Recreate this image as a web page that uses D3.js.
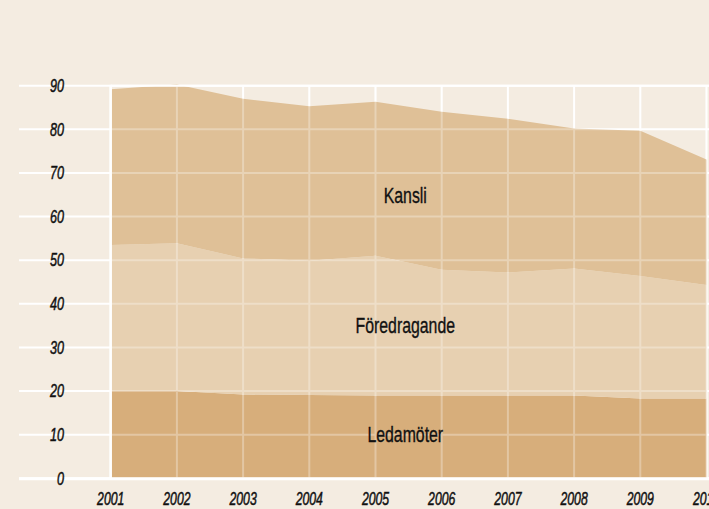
<!DOCTYPE html>
<html>
<head>
<meta charset="utf-8">
<script src="https://cdn.jsdelivr.net/npm/d3@7"></script>
<style>
  html, body { margin: 0; padding: 0; background: #f4ece1; }
  svg { display: block; }
  text { font-family: "Liberation Sans", Arial, sans-serif; fill: #111; }
</style>
</head>
<body>
<svg id="chart" width="709" height="509"></svg>
<script>
// ---- Data ----
const years = [2001, 2002, 2003, 2004, 2005, 2006, 2007, 2008, 2009, 2010];
const ledamoter    = [20.0, 20.0, 19.2, 19.1, 19.0, 19.0, 19.0, 19.0, 18.3, 18.3];
const foredragande = [33.5, 33.9, 31.2, 30.8, 32.0, 28.8, 28.2, 29.1, 28.1, 26.0];
const kansli       = [35.7, 36.4, 36.6, 35.4, 35.3, 36.2, 35.2, 32.1, 33.3, 28.8];
const seriesNames = ["Ledamöter", "Föredragande", "Kansli"];
const yTicks = [0, 10, 20, 30, 40, 50, 60, 70, 80, 90];

const rows = years.map((y, i) => ({
  year: y,
  "Ledamöter": ledamoter[i],
  "Föredragande": foredragande[i],
  "Kansli": kansli[i]
}));

const colors = { "Ledamöter": "#d7ae7b", "Föredragande": "#e7d0b1", "Kansli": "#dfc097" };
const labelPos = { "Ledamöter": [2005.45, 8.39], "Föredragande": [2005.45, 33.24], "Kansli": [2005.45, 63.04] };

const svg = d3.select("#chart");
const x = d3.scaleLinear().domain([2001, 2010]).range([110.7, 706.5]);
const y = d3.scaleLinear().domain([0, 90]).range([478.3, 85.7]);

const stacked = d3.stack().keys(seriesNames)(rows);

function drawGrid(g, stroke) {
  g.selectAll("line.h").data(yTicks).join("line")
    .attr("class", "h")
    .attr("x1", x(2001)).attr("x2", 709)
    .attr("y1", d => y(d)).attr("y2", d => y(d))
    .attr("stroke", stroke).attr("stroke-width", 2);
  g.selectAll("line.v").data(years).join("line")
    .attr("class", "v")
    .attr("x1", d => x(d)).attr("x2", d => x(d))
    .attr("y1", y(90)).attr("y2", y(0))
    .attr("stroke", stroke).attr("stroke-width", 2);
}

// grid beneath
drawGrid(svg.append("g"), "#ffffff");

// areas
const area = d3.area()
  .x(d => x(d.data.year))
  .y0(d => y(d[0]))
  .y1(d => y(d[1]));

svg.append("g").selectAll("path").data(stacked).join("path")
  .attr("d", area)
  .attr("fill", d => colors[d.key]);

// faded grid on top
drawGrid(svg.append("g").attr("opacity", 0.3), "#ffffff");

// strong lines: left axis, zero line, left-side tick stubs
const axisG = svg.append("g");
axisG.append("line")
  .attr("x1", x(2001)).attr("x2", x(2001))
  .attr("y1", y(90) - 1).attr("y2", y(0))
  .attr("stroke", "#fff").attr("stroke-width", 2.5);
axisG.selectAll("line.stub").data(yTicks).join("line")
  .attr("class", "stub")
  .attr("x1", 19).attr("x2", x(2001))
  .attr("y1", d => y(d)).attr("y2", d => y(d))
  .attr("stroke", "#fff").attr("stroke-width", 2);
axisG.append("line")
  .attr("x1", 19).attr("x2", 709)
  .attr("y1", y(0) + 0.5).attr("y2", y(0) + 0.5)
  .attr("stroke", "#fff").attr("stroke-width", 3);
axisG.append("line")
  .attr("x1", x(2001)).attr("x2", 709)
  .attr("y1", y(90)).attr("y2", y(90))
  .attr("stroke", "#fff").attr("stroke-width", 2);

// y tick labels
svg.append("g").selectAll("text").data(yTicks).join("text")
  .attr("transform", d => `translate(64,${y(d) + 6.3}) scale(0.7,1)`)
  .attr("text-anchor", "end")
  .style("font-style", "italic")
  .style("font-size", "18px")
  .style("stroke", "#111").style("stroke-width", 0.5)
  .text(d => d);

// x tick labels
svg.append("g").selectAll("text").data(years).join("text")
  .attr("transform", d => `translate(${x(d)},505) scale(0.68,1)`)
  .attr("text-anchor", "middle")
  .style("font-style", "italic")
  .style("font-size", "18px")
  .style("stroke", "#111").style("stroke-width", 0.5)
  .text(d => d);

// series labels
svg.append("g").selectAll("text").data(seriesNames).join("text")
  .attr("transform", d => `translate(${x(labelPos[d][0])},${y(labelPos[d][1])}) scale(0.72,1)`)
  .attr("text-anchor", "middle")
  .style("font-size", "22px")
  .style("stroke", "#111").style("stroke-width", 0.35)
  .text(d => d);
</script>
</body>
</html>
